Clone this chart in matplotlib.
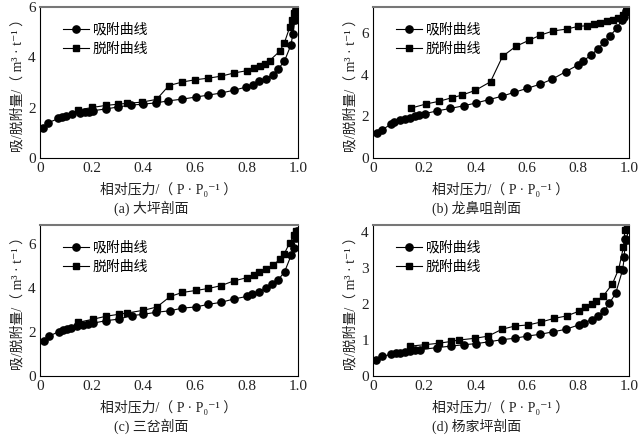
import matplotlib
matplotlib.use("Agg")
from matplotlib import pyplot as plt

plt.rcParams['font.family'] = ['Liberation Serif', 'Noto Sans CJK SC', 'DejaVu Sans']

# (a) 大坪剖面
a_ads_x = [0.013, 0.032, 0.071, 0.086, 0.100, 0.125, 0.155, 0.174, 0.191, 0.206, 0.256, 0.304, 0.351,
           0.400, 0.449, 0.497, 0.552, 0.603, 0.652, 0.701, 0.750, 0.800, 0.824, 0.849, 0.876, 0.902,
           0.924, 0.947, 0.973, 0.980, 0.988, 0.992]
a_ads_y = [1.20, 1.40, 1.57, 1.62, 1.67, 1.73, 1.80, 1.83, 1.84, 1.88, 1.95, 2.03, 2.10,
           2.14, 2.19, 2.27, 2.34, 2.42, 2.50, 2.58, 2.69, 2.82, 2.89, 3.05, 3.15, 3.31,
           3.55, 3.84, 4.50, 4.93, 5.47, 5.92]
a_des_x = [0.992, 0.983, 0.977, 0.968, 0.947, 0.929, 0.890, 0.871, 0.854, 0.828, 0.802, 0.753, 0.701,
           0.651, 0.602, 0.552, 0.500, 0.452, 0.395, 0.336, 0.304, 0.256, 0.203, 0.146]
a_des_y = [5.92, 5.76, 5.50, 5.20, 4.57, 4.24, 3.87, 3.74, 3.64, 3.58, 3.47, 3.38, 3.25,
           3.17, 3.11, 3.02, 2.88, 2.33, 2.22, 2.17, 2.14, 2.09, 2.01, 1.90]

# (b) 龙鼻咀剖面
b_ads_x = [0.017, 0.037, 0.069, 0.081, 0.104, 0.126, 0.143, 0.163, 0.180, 0.202, 0.250, 0.302, 0.355,
           0.402, 0.452, 0.502, 0.551, 0.601, 0.652, 0.701, 0.752, 0.800, 0.821, 0.853, 0.877, 0.902,
           0.926, 0.952, 0.971, 0.980, 0.988, 0.993]
b_ads_y = [1.18, 1.36, 1.62, 1.71, 1.81, 1.89, 1.94, 2.00, 2.06, 2.13, 2.26, 2.38, 2.51,
           2.64, 2.80, 2.96, 3.15, 3.34, 3.54, 3.79, 4.14, 4.46, 4.67, 4.94, 5.23, 5.55,
           5.87, 6.22, 6.61, 6.77, 7.04, 7.20]
b_des_x = [0.993, 0.987, 0.978, 0.958, 0.939, 0.913, 0.887, 0.863, 0.834, 0.802, 0.756, 0.704, 0.654,
           0.609, 0.558, 0.506, 0.459, 0.400, 0.348, 0.310, 0.257, 0.206, 0.150]
b_des_y = [7.17, 6.99, 6.88, 6.72, 6.64, 6.56, 6.48, 6.43, 6.35, 6.32, 6.19, 6.10, 5.90,
           5.65, 5.36, 4.88, 3.66, 3.25, 3.02, 2.90, 2.72, 2.59, 2.40]

# (c) 三岔剖面
c_ads_x = [0.016, 0.036, 0.072, 0.088, 0.103, 0.122, 0.145, 0.168, 0.186, 0.207, 0.256, 0.305, 0.356,
           0.401, 0.450, 0.505, 0.551, 0.603, 0.652, 0.701, 0.750, 0.802, 0.821, 0.847, 0.876, 0.899,
           0.924, 0.948, 0.974, 0.983, 0.991, 0.996]
c_ads_y = [1.57, 1.81, 2.01, 2.07, 2.13, 2.19, 2.25, 2.31, 2.36, 2.40, 2.51, 2.58, 2.74,
           2.80, 2.89, 2.96, 3.08, 3.13, 3.25, 3.34, 3.49, 3.61, 3.70, 3.82, 3.97, 4.16,
           4.37, 4.73, 5.49, 5.82, 6.24, 6.60]
c_des_x = [0.992, 0.986, 0.968, 0.947, 0.929, 0.903, 0.876, 0.849, 0.828, 0.802, 0.750, 0.702, 0.653,
           0.604, 0.552, 0.505, 0.453, 0.401, 0.339, 0.305, 0.256, 0.207, 0.146]
c_des_y = [6.60, 6.39, 6.05, 5.55, 5.29, 5.02, 4.84, 4.70, 4.58, 4.46, 4.31, 4.10, 3.97,
           3.88, 3.79, 3.61, 3.13, 2.98, 2.86, 2.80, 2.71, 2.58, 2.43]

# (d) 杨家坪剖面
d_ads_x = [0.013, 0.035, 0.072, 0.089, 0.104, 0.125, 0.143, 0.164, 0.183, 0.250, 0.304, 0.355, 0.402,
           0.452, 0.503, 0.554, 0.602, 0.653, 0.704, 0.754, 0.803, 0.824, 0.854, 0.877, 0.903, 0.923,
           0.948, 0.975, 0.982, 0.984, 0.991, 0.999]
d_ads_y = [0.44, 0.55, 0.60, 0.63, 0.65, 0.68, 0.70, 0.72, 0.73, 0.79, 0.83, 0.87, 0.90,
           0.95, 1.01, 1.05, 1.11, 1.16, 1.23, 1.30, 1.42, 1.47, 1.57, 1.68, 1.80, 2.02,
           2.30, 2.95, 3.32, 3.81, 3.79, 4.19]
d_des_x = [0.994, 0.984, 0.978, 0.960, 0.935, 0.900, 0.873, 0.854, 0.830, 0.804, 0.756, 0.706, 0.656,
           0.606, 0.554, 0.504, 0.450, 0.400, 0.335, 0.304, 0.256, 0.202, 0.143]
d_des_y = [4.19, 4.05, 3.58, 2.98, 2.56, 2.23, 2.09, 2.00, 1.91, 1.80, 1.67, 1.60, 1.50,
           1.42, 1.39, 1.30, 1.11, 1.05, 1.00, 0.96, 0.91, 0.87, 0.83]

panels = [
    ("(a) 大坪剖面", a_ads_x, a_ads_y, a_des_x, a_des_y, 6.0, [0, 2, 4, 6]),
    ("(b) 龙鼻咀剖面", b_ads_x, b_ads_y, b_des_x, b_des_y, 7.25, [0, 2, 4, 6]),
    ("(c) 三岔剖面", c_ads_x, c_ads_y, c_des_x, c_des_y, 6.85, [0, 2, 4, 6]),
    ("(d) 杨家坪剖面", d_ads_x, d_ads_y, d_des_x, d_des_y, 4.2, [0, 1, 2, 3, 4]),
]

W, H = 641, 437
fig = plt.figure(figsize=(W / 100, H / 100), dpi=100)

# pixel boxes: left, top, right, bottom
boxes = [(40, 7, 298, 158), (373, 7, 629, 158), (40, 225, 298, 376), (373, 225, 629, 376)]
caption_x = [151, 477, 151, 477]

for i, (cap, ax_x, ax_y, dx, dy, ymax, yt) in enumerate(panels):
    l, t, r, b = boxes[i]
    ax = fig.add_axes([l / W, 1 - b / H, (r - l) / W, (b - t) / H])
    ax.plot(ax_x, ax_y, color="black", lw=0.8, marker="o", markersize=5.2, label="吸附曲线")
    ax.plot(dx, dy, color="black", lw=0.8, marker="s", markersize=4.8, label="脱附曲线")
    ax.set_xlim(0, 1.0)
    ax.set_ylim(0, ymax)
    ax.set_xticks([0, 0.2, 0.4, 0.6, 0.8, 1.0])
    ax.set_xticklabels(["0", "0.2", "0.4", "0.6", "0.8", "1.0"])
    ax.set_yticks(yt)
    ax.tick_params(length=0, pad=3, labelsize=11, colors="#222222")
    for s in ["left", "bottom", "right"]:
        ax.spines[s].set_linewidth(0.8)
    ax.spines["top"].set_color("#777777")
    ax.spines["top"].set_linewidth(1.5)
    ax.set_xlabel("相对压力/（ P · P₀⁻¹ ）", fontsize=10, labelpad=5, color="#222222")
    ax.set_ylabel("吸/脱附量/（ m³ · t⁻¹ ）", fontsize=10, labelpad=3, color="#222222")
    ax.legend(loc="upper left", bbox_to_anchor=(0.04, 0.975), frameon=False, fontsize=10,
              handlelength=1.9, labelspacing=0.45, handletextpad=0.25)
    fig.text(caption_x[i] / W, 1 - (t + 201) / H, cap, ha="center", va="center", fontsize=10,
             color="#222222")

fig.savefig("out.png", dpi=100)
